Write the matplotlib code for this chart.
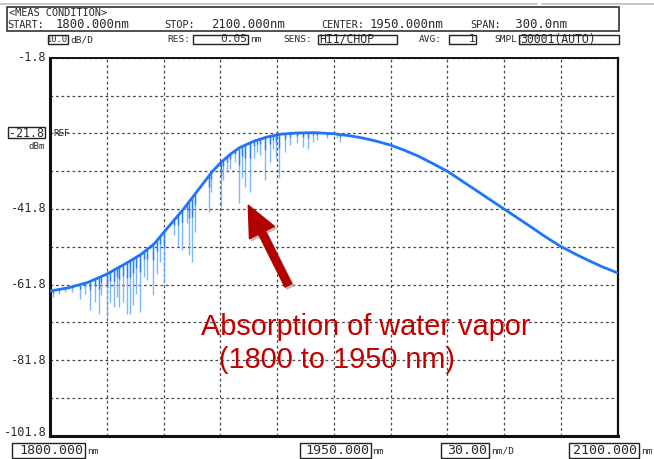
import numpy as np
import matplotlib
matplotlib.use("Agg")
import matplotlib.pyplot as plt
from matplotlib.patches import Rectangle
from matplotlib import transforms
from matplotlib.lines import Line2D

# ---------------- data ----------------
env_nm = [1800.0, 1810.0, 1820.0, 1830.0, 1840.0, 1848.0, 1855.0, 1862.0, 1870.5,
          1878.0, 1885.5, 1890.0, 1895.0, 1900.0, 1908.0, 1915.0, 1922.0, 1930.0,
          1940.0, 1950.0, 1958.0, 1965.0, 1972.0, 1980.0, 1987.0, 1995.0, 2002.0,
          2010.0, 2025.0, 2040.0, 2055.0, 2062.0, 2070.0, 2078.0, 2085.0, 2092.0, 2100.0]
env_db = [-63.5, -62.6, -61.2, -59.0, -56.2, -53.8, -51.0, -46.8, -41.8,
          -36.9, -32.0, -29.6, -27.4, -25.6, -23.8, -22.7, -22.0, -21.7,
          -21.6, -21.9, -22.4, -23.0, -23.8, -24.9, -26.2, -27.9, -29.7,
          -31.8, -36.8, -41.8, -46.8, -49.2, -51.7, -53.8, -55.5, -57.1, -58.7]

dip_nm = [1801.2, 1804.4, 1807.9, 1811.5, 1815.9, 1818.5, 1820.8, 1823.8, 1825.5,
          1827.0, 1830.0, 1831.7, 1833.5, 1835.3, 1836.5, 1838.2, 1840.5, 1842.3,
          1843.5, 1845.3, 1847.6, 1849.8, 1851.1, 1854.1, 1856.4, 1858.1, 1860.3,
          1865.2, 1867.8, 1869.9, 1872.3, 1873.1, 1874.9, 1876.7, 1883.7, 1884.9,
          1890.2, 1891.6, 1893.4, 1895.2, 1897.8, 1899.9, 1901.3, 1903.1, 1905.7,
          1907.5, 1909.3, 1911.0, 1913.7, 1916.3, 1918.0, 1919.5, 1920.7, 1924.2,
          1926.9, 1930.4, 1933.9, 1936.5, 1939.2, 1941.0, 1946.3, 1951.6, 1953.3]
dip_db = [-65.1, -64.2, -63.8, -63.8, -65.5, -64.2, -68.6, -66.4, -69.5,
          -64.6, -70.4, -66.4, -67.7, -65.1, -67.7, -66.4, -69.5, -69.5,
          -67.3, -64.2, -69.1, -59.8, -60.7, -64.6, -58.9, -55.8, -61.5,
          -48.7, -51.8, -52.7, -45.6, -54.0, -55.9, -47.9, -42.6, -37.3,
          -41.2, -34.2, -32.0, -31.1, -29.3, -40.3, -33.7, -35.9, -37.3,
          -28.4, -26.7, -27.5, -34.2, -29.3, -25.8, -28.4, -33.7, -26.7,
          -24.9, -24.4, -25.3, -26.0, -24.0, -23.6, -23.1, -23.1, -24.1]

x_start, x_stop, x_center, x_span, x_div = 1800.0, 2100.0, 1950.0, 300.0, 30.0
y_top, y_bottom, y_div, y_ref = -1.8, -101.8, 10.0, -21.8
y_tick_labels = ["-1.8", "-21.8", "-41.8", "-61.8", "-81.8", "-101.8"]
y_tick_values = [-1.8, -21.8, -41.8, -61.8, -81.8, -101.8]

header_items = [("START:", "1800.000nm"), ("STOP:", "2100.000nm"),
                ("CENTER:", "1950.000nm"), ("SPAN:", " 300.0nm")]
settings = [("", "10.0", "dB/D"), ("RES:", "0.05", "nm"), ("SENS:", "HI1/CHOP", ""),
            ("AVG:", "1", ""), ("SMPL:", "30001(AUTO)", "")]
bottom_labels = [("1800.000", "nm"), ("1950.000", "nm"), ("30.00", "nm/D"), ("2100.000", "nm")]

note_line1 = "Absorption of water vapor"
note_line2 = "(1800 to 1950 nm)"

# ---------------- figure ----------------
W, H = 654, 459
fig = plt.figure(figsize=(W / 100, H / 100), dpi=100)
fig.patch.set_facecolor("white")

def fx(x):
    return x / W

def fy(y):
    return 1 - y / H

MONO = "DejaVu Sans Mono"
TXT = "#2a2a2a"

def ftext(x, y, s, size, ha="left", va="center", **kw):
    fig.text(fx(x), fy(y), s, fontsize=size, ha=ha, va=va, family=MONO, color=TXT, **kw)

def fbox(x0, y0, x1, y1, lw=1.0, ec="#222222"):
    fig.add_artist(Rectangle((fx(x0), fy(y1)), (x1 - x0) / W, (y1 - y0) / H,
                             transform=fig.transFigure, fill=False, lw=lw, ec=ec))

# top grey rule
fig.add_artist(Line2D([fx(0), fx(537)], [fy(3.5), fy(3.5)], transform=fig.transFigure, color="#b8b8b8", lw=1.1))
fig.add_artist(Line2D([fx(542), fx(654)], [fy(3.5), fy(3.5)], transform=fig.transFigure, color="#b8b8b8", lw=1.1))

# header box
fbox(6.7, 6.7, 619, 30.7, lw=1.1)
ftext(9, 13.5, "<MEAS CONDITION>", 7.4)
label_x = [7, 164, 321, 470]
value_x = [56, 211, 370, 508]
for (lab, val), lx, vx in zip(header_items, label_x, value_x):
    ftext(lx, 25.5, lab, 7.4)
    ftext(vx, 24.5, val, 8.8)

# settings row
row_y = 39.5
fbox(48, 34.5, 68, 44)
ftext(67.5, row_y, settings[0][1], 6.3, ha="right")
ftext(70, row_y + 0.5, settings[0][2], 6.8)
ftext(167, row_y + 0.5, settings[1][0], 6.8)
fbox(193, 34.5, 248, 44)
ftext(247, row_y, settings[1][1], 8.0, ha="right")
ftext(250, row_y + 0.5, settings[1][2], 6.8)
ftext(283, row_y + 0.5, settings[2][0], 6.8)
fbox(318, 34.5, 397, 44)
ftext(319.5, row_y, settings[2][1], 8.3)
ftext(419, row_y + 0.5, settings[3][0], 6.8)
fbox(449, 34.5, 476, 44)
ftext(475, row_y, settings[3][1], 8.0, ha="right")
ftext(494, row_y + 0.5, settings[4][0], 6.8)
fbox(519, 34.5, 619, 44)
ftext(520, row_y, settings[4][1], 8.3)

# ---------------- axes ----------------
L, R, T, B = 50.3, 617.5, 57.8, 435.8
ax = fig.add_axes([fx(L), fy(B), (R - L) / W, (B - T) / H])
ax.set_xlim(x_start, x_stop)
ax.set_ylim(y_bottom, y_top)
ax.set_xticks(np.arange(x_start, x_stop + 0.1, x_div))
ax.set_yticks(np.arange(y_bottom, y_top + 0.1, y_div))
ax.tick_params(length=0, labelbottom=False, labelleft=False)
ax.grid(True, color="#4a4a4a", lw=0.9, linestyle=(0, (2.2, 2.2)))
for side, lw in (("left", 2.2), ("bottom", 2.2), ("right", 1.6), ("top", 1.4)):
    ax.spines[side].set_linewidth(lw)
    ax.spines[side].set_color("#111111")

# spectrum
env_nm_a = np.array(env_nm)
env_db_a = np.array(env_db)
dip_nm_a = np.array(dip_nm)
dip_db_a = np.array(dip_db)
dip_top = np.interp(dip_nm_a, env_nm_a, env_db_a)
dip_bot = np.minimum(dip_db_a, dip_top - 0.5)
ax.vlines(dip_nm_a, dip_bot, dip_top, color="#66acff", lw=1.0, alpha=0.85, zorder=3)
ax.vlines(dip_nm_a, dip_top - 0.3 * (dip_top - dip_bot), dip_top, color="#2a7cff", lw=1.0, zorder=3)
ax.plot(env_nm_a, env_db_a, color="#1f75fa", lw=2.0, zorder=4,
        solid_joinstyle="round", solid_capstyle="round")

# left labels
bt = transforms.blended_transform_factory(fig.transFigure, ax.transData)
for lab, v in zip(y_tick_labels, y_tick_values):
    if v == y_ref:
        continue
    dy = 1.0 if v == y_bottom else 0.0
    ax.text(fx(46.5), v + dy, lab, transform=bt, ha="right", va="center",
            fontsize=8.6, family=MONO, color=TXT, clip_on=False)
fbox(8, 127, 45, 137.5)
ax.text(fx(44), y_ref, y_tick_labels[1], transform=bt, ha="right", va="center",
        fontsize=8.4, family=MONO, color=TXT, clip_on=False)
ftext(45, 146.5, "dBm", 6.6, ha="right")
ax.text(fx(53), y_ref, "REF", transform=bt, ha="left", va="center",
        fontsize=6.6, family=MONO, color=TXT, clip_on=False)

# bottom labels
bx = [(12, 85), (300, 370.5), (441, 489), (569, 639)]
for (val, unit), (x0, x1) in zip(bottom_labels, bx):
    fbox(x0, 443, x1, 457.5)
    ftext(x1 - 1.5, 450.5, val, 9.6, ha="right")
    ftext(x1 + 2, 451, unit, 6.8)

# ---------------- annotation ----------------
red = "#C00000"
for dx, dy, col, z in ((2.0, -2.0, "#9a9a9a", 5), (0, 0, "#B00000", 6)):
    ax.annotate("", xy=(1904.7 + dx * 0.53, -40.8 + dy / 3.78),
                xytext=(1925.9 + dx * 0.53, -62.0 + dy / 3.78),
                arrowprops=dict(arrowstyle="simple,head_length=1.1,head_width=1.0,tail_width=0.27",
                                color=col, shrinkA=0, shrinkB=0, mutation_scale=20,
                                alpha=0.55 if z == 5 else 1.0),
                zorder=z)
fig.text(fx(201), fy(327), note_line1, fontsize=20.8, color=red, family="Liberation Sans",
         ha="left", va="center")
fig.text(fx(219), fy(360), note_line2, fontsize=20.8, color=red, family="Liberation Sans",
         ha="left", va="center")

fig.savefig("out.png", dpi=100, facecolor="white")
